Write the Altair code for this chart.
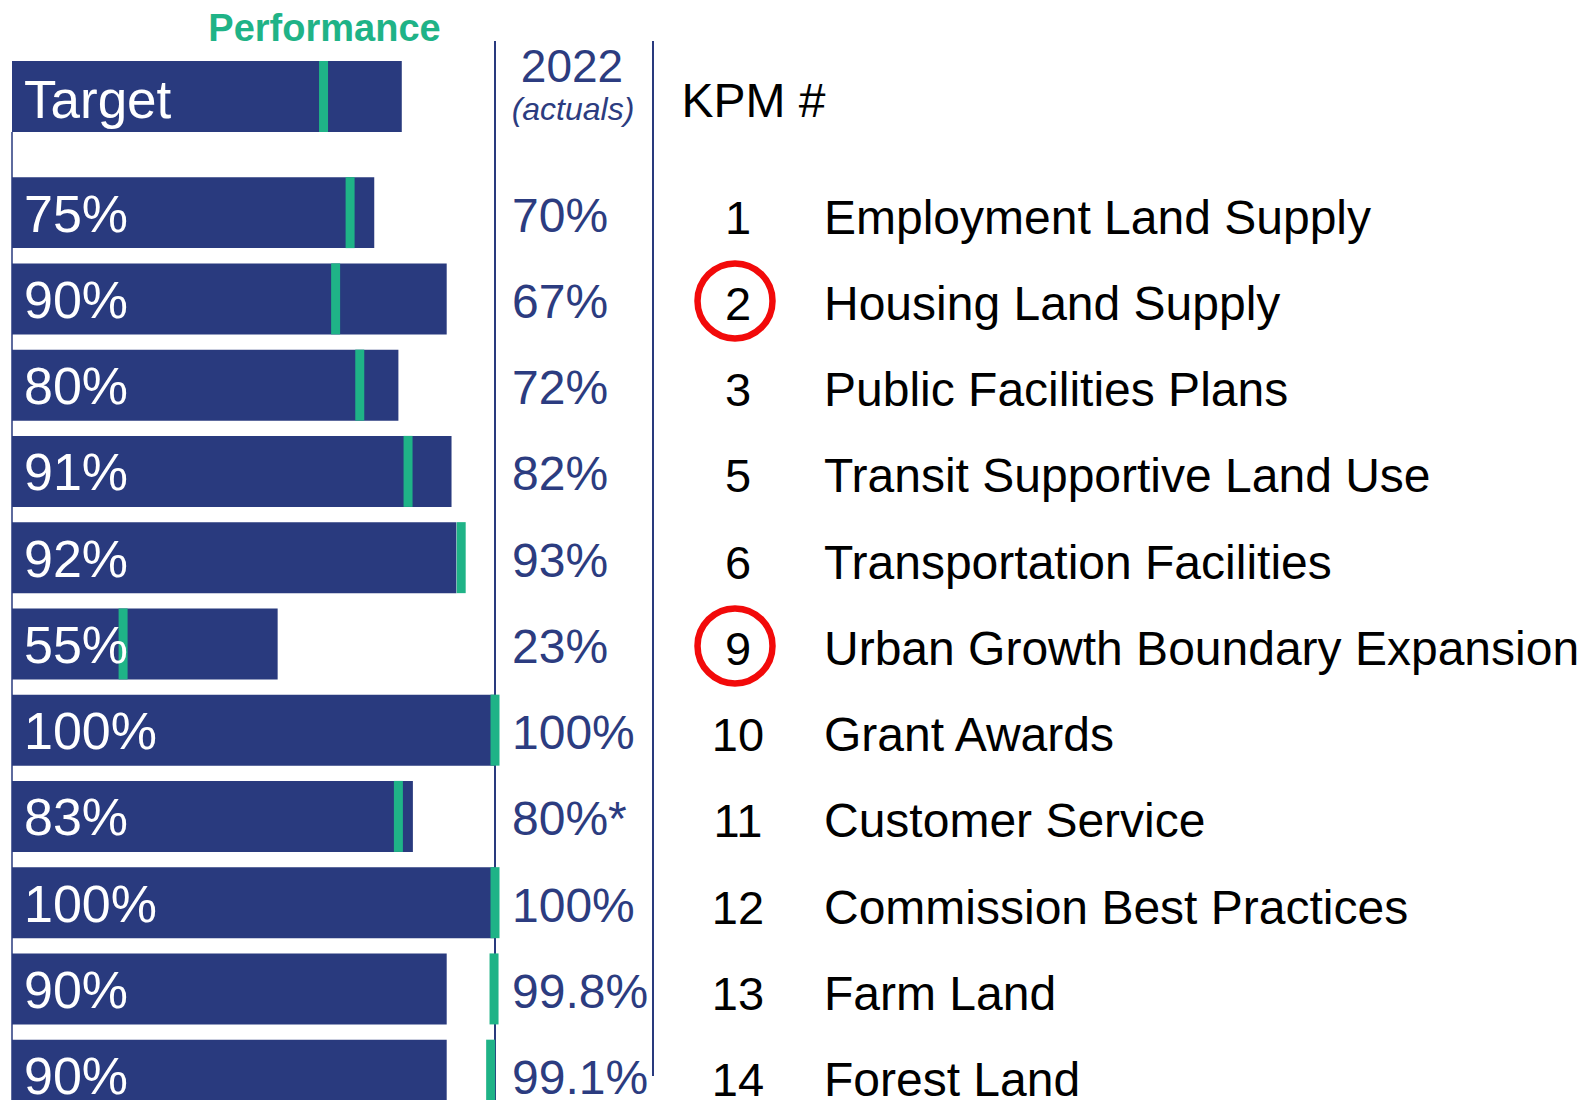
import altair as alt
import pandas as pd

# ---- data ----
kpm = ["1", "2", "3", "5", "6", "9", "10", "11", "12", "13", "14"]
names = [
    "Employment Land Supply",
    "Housing Land Supply",
    "Public Facilities Plans",
    "Transit Supportive Land Use",
    "Transportation Facilities",
    "Urban Growth Boundary Expansion",
    "Grant Awards",
    "Customer Service",
    "Commission Best Practices",
    "Farm Land",
    "Forest Land",
]
targets = [75, 90, 80, 91, 92, 55, 100, 83, 100, 90, 90]
actuals = [70, 67, 72, 82, 93, 23, 100, 80, 100, 99.8, 99.1]
actual_labels = ["70%", "67%", "72%", "82%", "93%", "23%", "100%", "80%*", "100%", "99.8%", "99.1%"]
circled = ["2", "9"]

legend_target = 80.7
legend_actual = 64.5

NAVY = "#293a7e"
GREEN = "#1fb387"
TEXT_NAVY = "#2c3c80"
RED = "#f20a0a"
FONT = "Liberation Sans"

df = pd.DataFrame({
    "kpm": kpm,
    "name": names,
    "target": targets,
    "actual": actuals,
    "actual_label": actual_labels,
    "target_label": [f"{t}%" for t in targets],
})
circ_df = pd.DataFrame({"kpm": circled})
one = pd.DataFrame({"legend_target": [legend_target], "legend_actual": [legend_actual], "hundred": [100], "zero": [0]})

W, H = 1579, 1092
xs = alt.Scale(domain=[0, 100], range=[4, 487])
ys = alt.Scale(domain=kpm, range=[161.5, 1110.3], paddingInner=0.177, paddingOuter=0.0885)
Y = alt.Y("kpm:N", scale=ys, axis=None, sort=None)

base = alt.Chart(df)

# vertical lines
line100 = alt.Chart(one).mark_rule(color=NAVY, strokeWidth=2).encode(
    x=alt.X("hundred:Q", scale=xs, axis=None), y=alt.value(33), y2=alt.value(H))
line0 = alt.Chart(one).mark_rule(color=NAVY, strokeWidth=1.5).encode(
    x=alt.X("zero:Q", scale=xs, axis=None), y=alt.value(124), y2=alt.value(H))
line_right = alt.Chart(one).mark_rule(color=NAVY, strokeWidth=2).encode(
    x=alt.value(645), y=alt.value(33), y2=alt.value(1068))

# legend row
leg_bar = alt.Chart(one).mark_bar(color=NAVY).encode(
    x=alt.X("zero:Q", scale=xs, axis=None), x2="legend_target:Q",
    y=alt.value(53), y2=alt.value(124))
leg_tick = alt.Chart(one).mark_rule(color=GREEN, strokeWidth=9).encode(
    x=alt.X("legend_actual:Q", scale=xs, axis=None), y=alt.value(53), y2=alt.value(124))

bars = base.mark_bar(color=NAVY).encode(x=alt.X("target:Q", scale=xs, axis=None), y=Y)
ticks = base.mark_tick(color=GREEN, thickness=9, size=71, opacity=1).encode(
    x=alt.X("actual:Q", scale=xs, axis=None), y=Y)

bar_labels = base.mark_text(color="white", font=FONT, fontSize=52, align="left",
                            baseline="alphabetic", dy=19).encode(
    x=alt.value(16), y=Y, text="target_label:N")
act_labels = base.mark_text(color=TEXT_NAVY, font=FONT, fontSize=48, align="left",
                            baseline="alphabetic", dy=19).encode(
    x=alt.value(504), y=Y, text="actual_label:N")
kpm_labels = base.mark_text(color="black", font=FONT, fontSize=47, align="center",
                            baseline="alphabetic", dy=21).encode(
    x=alt.value(730), y=Y, text="kpm:N")
name_labels = base.mark_text(color="black", font=FONT, fontSize=48, align="left",
                             baseline="alphabetic", dy=21).encode(
    x=alt.value(816), y=Y, text="name:N")

circles = alt.Chart(circ_df).mark_point(shape="circle", filled=False, color=RED, opacity=1,
                                        strokeWidth=6.5, size=5625, yOffset=2).encode(
    x=alt.value(727), y=Y)


def header(txt, x, y, size, color, align="left", weight="normal", style="normal"):
    return alt.Chart(pd.DataFrame({"t": [txt]})).mark_text(
        color=color, font=FONT, fontSize=size, align=align, baseline="alphabetic",
        fontWeight=weight, fontStyle=style).encode(
        x=alt.value(x), y=alt.value(y), text="t:N")


headers = [
    header("Performance", 316.5, 33, 38, GREEN, align="center", weight="bold"),
    header("Target", 16, 110, 53, "white"),
    header("2022", 564, 74, 46, TEXT_NAVY, align="center"),
    header("(actuals)", 565, 112, 32, TEXT_NAVY, align="center", style="italic"),
    header("KPM #", 673.5, 109, 48, "black"),
]

chart = alt.layer(
    line0, line100, line_right,
    leg_bar, leg_tick,
    bars, ticks,
    bar_labels, act_labels, kpm_labels, name_labels,
    circles,
    *headers,
).properties(
    width=W, height=H, padding=0, autosize=alt.AutoSizeParams(type="none"),
    background="white",
).configure_view(stroke=None)

chart.save("out.html", embed_options={"renderer": "svg", "actions": False})
